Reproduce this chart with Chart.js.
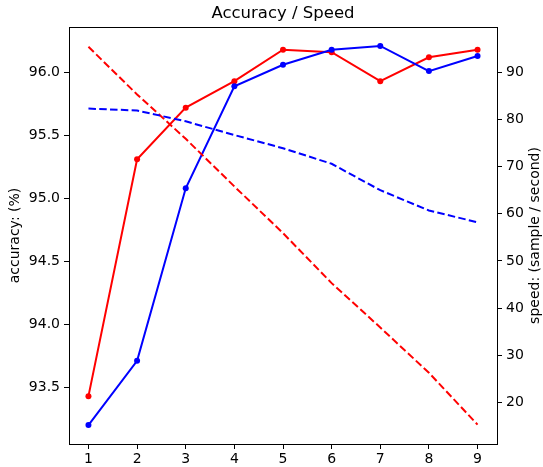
<!DOCTYPE html>
<html lang="en">
<head>
  <meta charset="UTF-8">
  <title>Accuracy / Speed</title>
  <script src="https://cdn.jsdelivr.net/npm/chart.js"></script>
  <style>
    body {
      margin: 0;
      background: #fff;
    }

    .chart-container {
      position: relative;
      width: 543px;
      height: 467px;
    }
  </style>
</head>
<body>
  <div class="chart-container">
    <canvas id="accChart"></canvas>
  </div>

  <script>
    // data
    const steps = [1, 2, 3, 4, 5, 6, 7, 8, 9];
    const accRed = [93.43, 95.31, 95.72, 95.93, 96.18, 96.16, 95.93, 96.12, 96.18];
    const accBlue = [93.20, 93.71, 95.08, 95.89, 96.06, 96.18, 96.21, 96.01, 96.13];
    const speedRed = [95.4, 85.3, 75.9, 65.8, 55.9, 45.3, 35.9, 26.3, 15.3];
    const speedBlue = [82.3, 81.9, 79.6, 76.7, 73.9, 70.6, 65.0, 60.7, 58.2];

    const accTicks = [93.5, 94.0, 94.5, 95.0, 95.5, 96.0];
    const speedTicks = [20, 30, 40, 50, 60, 70, 80, 90];

    const FONT = 'DejaVu Sans';
    const titleText = 'Accuracy / Speed';
    const speedLabel = 'speed: (sample / second)';

    function toPoints(ys) {
      return steps.map((x, i) => ({ x: x, y: ys[i] }));
    }

    function fixTicks(values) {
      return function (scale) {
        scale.ticks = values.map(v => ({ value: v }));
      };
    }

    // box around the plot, title centred over the plot, right axis title reading upwards
    const frame = {
      id: 'frame',
      afterDraw(chart) {
        const a = chart.chartArea;
        const c = chart.ctx;
        c.save();
        c.strokeStyle = '#000';
        c.lineWidth = 1;
        c.strokeRect(Math.round(a.left) + 0.5, Math.round(a.top) + 0.5,
          Math.round(a.right - a.left), Math.round(a.bottom - a.top));

        c.fillStyle = '#000';
        c.textAlign = 'center';
        c.textBaseline = 'middle';
        c.font = '16.5px "' + FONT + '"';
        c.fillText(titleText, (a.left + a.right) / 2, 13.5);

        c.translate(chart.width - 7.5, (a.top + a.bottom) / 2);
        c.rotate(-Math.PI / 2);
        c.font = '14px "' + FONT + '"';
        c.fillText(speedLabel, 0, 0);
        c.restore();
      }
    };

    const axisCommon = {
      border: { display: true, color: '#000', width: 1 },
      grid: { drawOnChartArea: false, drawTicks: true, tickLength: 5, tickColor: '#000' },
    };

    const ctx = document.getElementById('accChart').getContext('2d');
    new Chart(ctx, {
      type: 'line',
      data: {
        datasets: [
          {
            label: 'accuracy red',
            data: toPoints(accRed),
            yAxisID: 'yAcc',
            borderColor: '#ff0000',
            backgroundColor: '#ff0000',
            borderWidth: 2,
            pointRadius: 3,
            pointBorderWidth: 0,
            tension: 0,
            order: 3,
          },
          {
            label: 'accuracy blue',
            data: toPoints(accBlue),
            yAxisID: 'yAcc',
            borderColor: '#0000ff',
            backgroundColor: '#0000ff',
            borderWidth: 2,
            pointRadius: 3,
            pointBorderWidth: 0,
            tension: 0,
            order: 2,
          },
          {
            label: 'speed red',
            data: toPoints(speedRed),
            yAxisID: 'ySpeed',
            borderColor: '#ff0000',
            borderWidth: 2,
            borderDash: [7.5, 3.3],
            pointRadius: 0,
            tension: 0,
            order: 1,
          },
          {
            label: 'speed blue',
            data: toPoints(speedBlue),
            yAxisID: 'ySpeed',
            borderColor: '#0000ff',
            borderWidth: 2,
            borderDash: [7.5, 3.3],
            pointRadius: 0,
            tension: 0,
            order: 0,
          },
        ],
      },
      options: {
        responsive: true,
        maintainAspectRatio: false,
        animation: false,
        layout: { padding: { top: 27, left: 0, right: 0, bottom: 0 } },
        plugins: {
          legend: { display: false },
          tooltip: { enabled: false },
          title: { display: false },
        },
        scales: {
          x: {
            type: 'linear',
            position: 'bottom',
            min: 0.6,
            max: 9.4,
            afterBuildTicks: fixTicks(steps),
            afterFit(scale) { scale.height = 23; },
            ticks: { color: '#000', font: { family: FONT, size: 14 }, padding: 2, maxRotation: 0 },
            ...axisCommon,
          },
          yAcc: {
            type: 'linear',
            position: 'left',
            min: 93.05,
            max: 96.36,
            afterBuildTicks: fixTicks(accTicks),
            afterFit(scale) { scale.width = 69; },
            ticks: {
              color: '#000',
              font: { family: FONT, size: 14 },
              padding: 4,
              callback: v => v.toFixed(1),
            },
            title: {
              display: true,
              text: 'accuracy: (%)',
              color: '#000',
              font: { family: FONT, size: 14 },
              padding: { top: 7, bottom: 0 },
            },
            ...axisCommon,
          },
          ySpeed: {
            type: 'linear',
            position: 'right',
            min: 11.2,
            max: 99.6,
            afterBuildTicks: fixTicks(speedTicks),
            afterFit(scale) { scale.width = 46; },
            ticks: { color: '#000', font: { family: FONT, size: 14 }, padding: 4 },
            ...axisCommon,
          },
        },
      },
      plugins: [frame],
    });
  </script>
</body>
</html>
